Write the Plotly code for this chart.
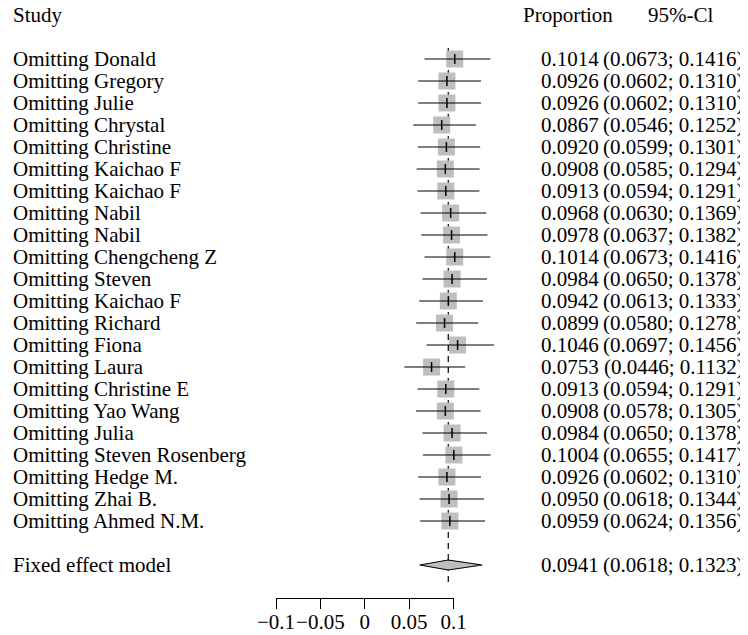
import plotly.graph_objects as go

# ---------------- data ----------------
studies = ["Omitting Donald", "Omitting Gregory", "Omitting Julie", "Omitting Chrystal",
           "Omitting Christine", "Omitting Kaichao F", "Omitting Kaichao F", "Omitting Nabil",
           "Omitting Nabil", "Omitting Chengcheng Z", "Omitting Steven", "Omitting Kaichao F",
           "Omitting Richard", "Omitting Fiona", "Omitting Laura", "Omitting Christine E",
           "Omitting Yao Wang", "Omitting Julia", "Omitting Steven Rosenberg", "Omitting Hedge M.",
           "Omitting Zhai B.", "Omitting Ahmed N.M."]
prop = [0.1014, 0.0926, 0.0926, 0.0867, 0.0920, 0.0908, 0.0913, 0.0968, 0.0978, 0.1014,
        0.0984, 0.0942, 0.0899, 0.1046, 0.0753, 0.0913, 0.0908, 0.0984, 0.1004, 0.0926,
        0.0950, 0.0959]
lower = [0.0673, 0.0602, 0.0602, 0.0546, 0.0599, 0.0585, 0.0594, 0.0630, 0.0637, 0.0673,
         0.0650, 0.0613, 0.0580, 0.0697, 0.0446, 0.0594, 0.0578, 0.0650, 0.0655, 0.0602,
         0.0618, 0.0624]
upper = [0.1416, 0.1310, 0.1310, 0.1252, 0.1301, 0.1294, 0.1291, 0.1369, 0.1382, 0.1416,
         0.1378, 0.1333, 0.1278, 0.1456, 0.1132, 0.1291, 0.1305, 0.1378, 0.1417, 0.1310,
         0.1344, 0.1356]
pooled_label = "Fixed effect model"
pooled = 0.0941
pooled_lower = 0.0618
pooled_upper = 0.1323
headers = ["Study", "Proportion", "95%-Cl"]
tick_vals = [-0.1, -0.05, 0, 0.05, 0.1]
tick_text = ["\u22120.1", "\u22120.05", "0", "0.05", "0.1"]

# ---------------- layout constants ----------------
PAGE_W, PAGE_H = 748, 635
OFF = 8                                # default body margin of the html page
W, H = PAGE_W - OFF, PAGE_H - OFF      # figure size so it ends at the window edge
X0_PX, SCALE = 364.75 - OFF, 887.5     # figure pixel of 0 and px per unit
ROW0_PX, ROW_H = 15 - OFF, 22          # figure pixel of header row and row height
FONT = "Liberation Serif, Times New Roman, serif"
FS = 21
SQ = "#bebebe"

xr = [(0 - X0_PX) / SCALE, (W - X0_PX) / SCALE]
yr = [(H - ROW0_PX) / ROW_H, (0 - ROW0_PX) / ROW_H]

n = len(studies)
rows = [2 + i for i in range(n)]
pooled_row = rows[-1] + 2

fig = go.Figure()

# reference (pooled) dashed line
fig.add_trace(go.Scatter(x=[pooled, pooled], y=[1.5, pooled_row + 1.0], mode="lines",
                         line=dict(color="black", width=1.2, dash="6px,5px"),
                         hoverinfo="skip", showlegend=False))

# squares
fig.add_trace(go.Scatter(x=prop, y=rows, mode="markers",
                         marker=dict(symbol="square", size=17, color=SQ, line=dict(width=0)),
                         hoverinfo="skip", showlegend=False))

# CI lines
cx, cy = [], []
for lo, hi, r in zip(lower, upper, rows):
    cx += [lo, hi, None]
    cy += [r, r, None]
fig.add_trace(go.Scatter(x=cx, y=cy, mode="lines", line=dict(color="black", width=1.2),
                         hoverinfo="skip", showlegend=False))

# point estimate ticks
fig.add_trace(go.Scatter(x=prop, y=rows, mode="markers",
                         marker=dict(symbol="line-ns", size=7, line=dict(color="black", width=1.5)),
                         hoverinfo="skip", showlegend=False))

# diamond
h = 5 / ROW_H
fig.add_trace(go.Scatter(x=[pooled_lower, pooled, pooled_upper, pooled, pooled_lower],
                         y=[pooled_row, pooled_row - h, pooled_row, pooled_row + h, pooled_row],
                         mode="lines", fill="toself", fillcolor=SQ,
                         line=dict(color="black", width=1.2),
                         hoverinfo="skip", showlegend=False))

# dummy trace for the visible axis
fig.add_trace(go.Scatter(x=[tick_vals[0], tick_vals[-1]], y=[0, 0], xaxis="x2", yaxis="y2",
                         mode="markers", marker=dict(opacity=0), hoverinfo="skip",
                         showlegend=False))

ann = []
def txt(s, xpx, row, anchor):
    ann.append(dict(text=s, x=(xpx - OFF) / W, xref="paper", y=row, yref="y", xanchor=anchor,
                    yanchor="middle", showarrow=False, font=dict(family=FONT, size=FS, color="black")))

txt(headers[0], 11, 0, "left")
txt(headers[1], 568, 0, "center")
txt(headers[2], 680.5, 0, "center")
for s, p, lo, hi, r in zip(studies, prop, lower, upper, rows):
    txt(s, 11, r, "left")
    txt(f"{p:.4f}", 569.5, r, "center")
    txt(f"({lo:.4f}; {hi:.4f})", 673.5, r, "center")
txt(pooled_label, 11, pooled_row, "left")
txt(f"{pooled:.4f}", 569.5, pooled_row, "center")
txt(f"({pooled_lower:.4f}; {pooled_upper:.4f})", 673.5, pooled_row, "center")

fig.update_layout(
    width=W, height=H, margin=dict(l=0, r=0, t=0, b=0, autoexpand=False),
    paper_bgcolor="white", plot_bgcolor="rgba(0,0,0,0)",
    xaxis=dict(range=xr, visible=False, fixedrange=True, automargin=False),
    yaxis=dict(range=yr, visible=False, fixedrange=True, automargin=False),
    xaxis2=dict(domain=[(X0_PX - 0.1 * SCALE) / W, (X0_PX + 0.1 * SCALE) / W],
                range=[tick_vals[0], tick_vals[-1]], anchor="free",
                position=1 - (598 - OFF) / H,
                showline=True, linecolor="black", linewidth=1, ticks="outside", ticklen=10,
                tickcolor="black", tickwidth=1, tickvals=tick_vals, ticktext=tick_text,
                tickangle=0, automargin=False, ticklabelstandoff=-5,
                tickfont=dict(family=FONT, size=FS, color="black"), showgrid=False,
                zeroline=False, fixedrange=True),
    yaxis2=dict(anchor="x2", visible=False, range=[-1, 1], fixedrange=True, automargin=False),
    annotations=ann, showlegend=False,
)

fig.write_html("out.html")
